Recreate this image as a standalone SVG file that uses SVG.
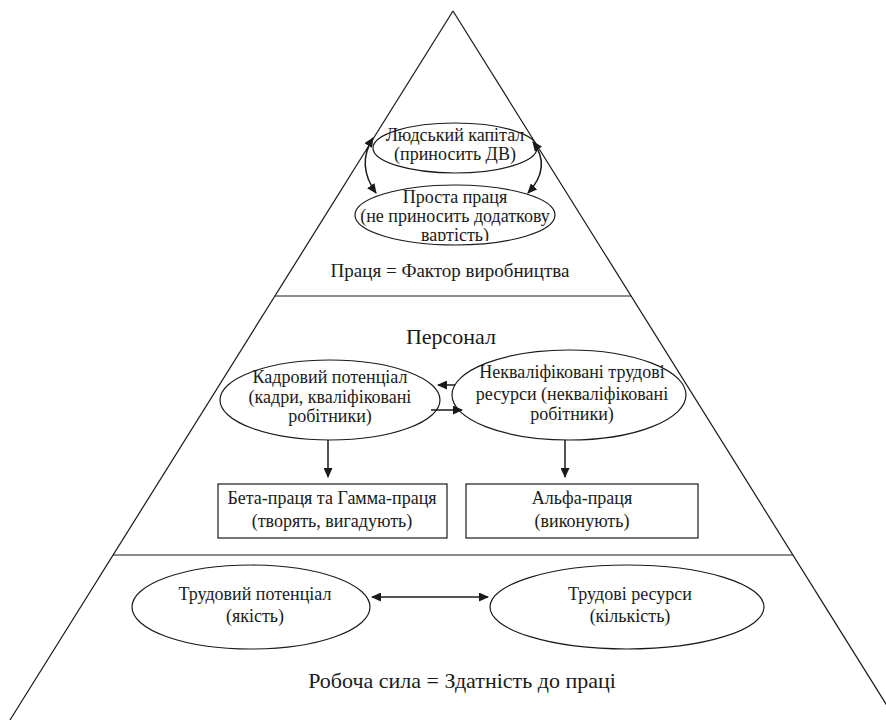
<svg xmlns="http://www.w3.org/2000/svg" width="886" height="720" viewBox="0 0 886 720">
<style>
.ln{stroke:#1a1a1a;stroke-width:1.2;fill:none}
.sh{stroke:#1a1a1a;stroke-width:1.2;fill:#fff}
.ar{stroke:#1a1a1a;stroke-width:1.5;fill:none}
text{font-family:'Liberation Serif','DejaVu Serif',serif;fill:#1a1a1a;text-anchor:middle}
.t{font-size:18px}
.t2{font-size:19px}
.big{font-size:22px}
</style>
<defs>
<marker id="ah" viewBox="0 0 10 10" refX="9" refY="5" markerWidth="10" markerHeight="9" markerUnits="userSpaceOnUse" orient="auto-start-reverse" preserveAspectRatio="none">
<path d="M0,0 L10,5 L0,10 z" fill="#1a1a1a"/>
</marker>
<clipPath id="c2"><rect x="340" y="180" width="230" height="61"/></clipPath>
</defs>
<g id="pyramid">
<line class="ln" x1="453" y1="11" x2="10" y2="720"/>
<line class="ln" x1="453" y1="11" x2="896" y2="720"/>
<line class="ln" x1="275" y1="296" x2="631" y2="296"/>
<line class="ln" x1="113" y1="555" x2="793" y2="555"/>
</g>
<g id="labels">
<text class="t2" x="450" y="277">Праця = Фактор виробництва</text>
<text class="big" x="451" y="344">Персонал</text>
<text class="big" x="462" y="688">Робоча сила = Здатність до праці</text>
</g>
<g id="n-human-capital">
<ellipse class="sh" cx="455" cy="148" rx="82" ry="25"/>
<text class="t" x="455" y="141">Людський капітал</text>
<text class="t" x="455" y="160">(приносить ДВ)</text>
</g>
<g id="n-simple-labour">
<ellipse class="sh" cx="455" cy="215" rx="100" ry="30"/>
<g clip-path="url(#c2)">
<text class="t" x="455" y="203">Проста праця</text>
<text class="t" x="455" y="222">(не приносить додаткову</text>
<text class="t" x="455" y="241">вартість)</text>
</g>
</g>
<g id="n-kadrovyi">
<ellipse class="sh" cx="330" cy="400" rx="110" ry="40"/>
<text class="t" x="330" y="383">Кадровий потенціал</text>
<text class="t" x="330" y="403">(кадри, кваліфіковані</text>
<text class="t" x="330" y="422">робітники)</text>
</g>
<g id="n-nekval">
<ellipse class="sh" cx="569" cy="395" rx="117" ry="45"/>
<text class="t" x="572" y="378">Некваліфіковані трудові</text>
<text class="t" x="572" y="400">ресурси (некваліфіковані</text>
<text class="t" x="572" y="420">робітники)</text>
</g>
<g id="n-beta">
<rect class="sh" x="218" y="484" width="229" height="54"/>
<text class="t" x="332" y="504">Бета-праця та Гамма-праця</text>
<text class="t" x="332" y="527">(творять, вигадують)</text>
</g>
<g id="n-alpha">
<rect class="sh" x="466" y="484" width="232" height="54"/>
<text class="t" x="582" y="504">Альфа-праця</text>
<text class="t" x="582" y="527">(виконують)</text>
</g>
<g id="n-trud-pot">
<ellipse class="sh" cx="251" cy="607" rx="119" ry="42"/>
<text class="t" x="255" y="600">Трудовий потенціал</text>
<text class="t" x="255" y="622">(якість)</text>
</g>
<g id="n-trud-res">
<ellipse class="sh" cx="627" cy="607" rx="137" ry="42"/>
<text class="t" x="630" y="600">Трудові ресурси</text>
<text class="t" x="630" y="622">(кількість)</text>
</g>
<g id="connectors">
<path class="ar" d="M373,138 Q356,165 376,193" marker-start="url(#ah)" marker-end="url(#ah)"/>
<path class="ar" d="M533,142 Q552,167 528,193" marker-start="url(#ah)" marker-end="url(#ah)"/>
<path class="ar" d="M455,385 L438,385" marker-end="url(#ah)"/>
<path class="ar" d="M431,410 L462,410" marker-end="url(#ah)"/>
<path class="ar" d="M328,440 L328,477" marker-end="url(#ah)"/>
<path class="ar" d="M565,440 L565,477" marker-end="url(#ah)"/>
<path class="ar" d="M372,597 L488,597" marker-start="url(#ah)" marker-end="url(#ah)"/>
</g>
</svg>
